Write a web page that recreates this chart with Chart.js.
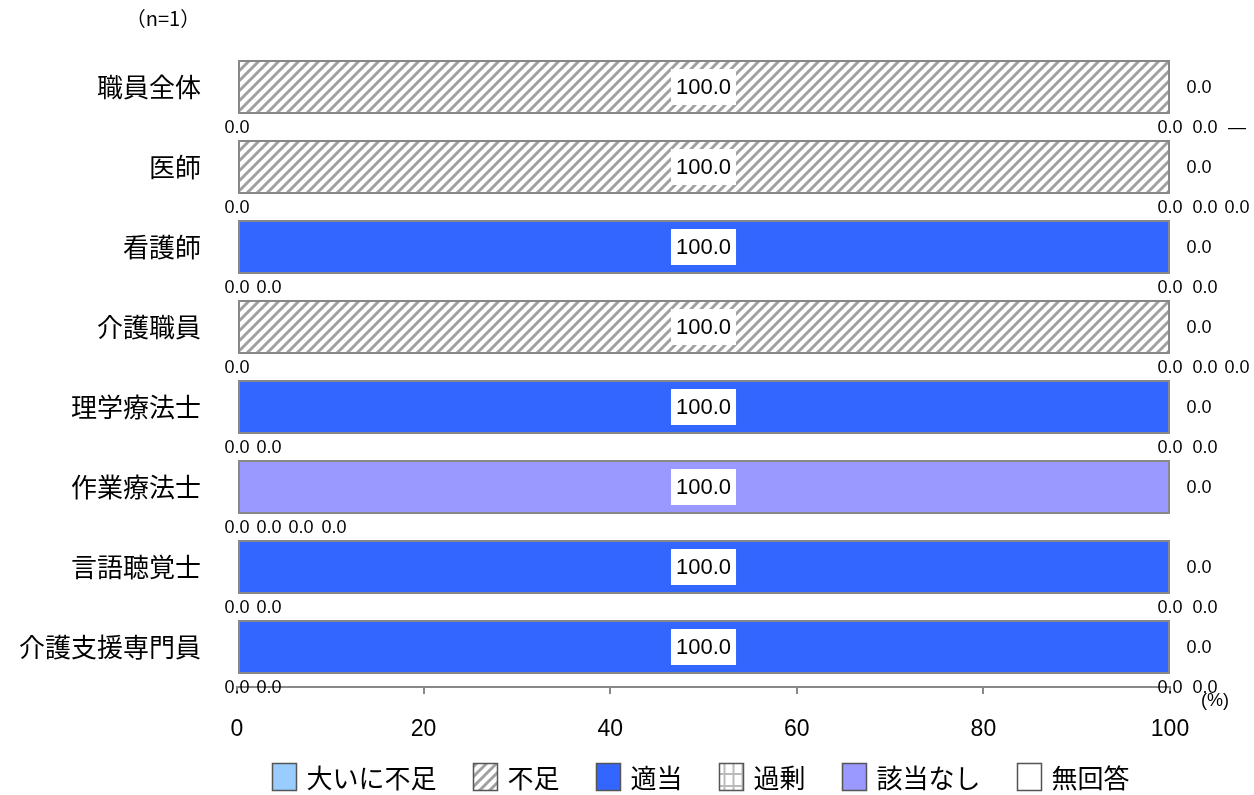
<!DOCTYPE html>
<html><head><meta charset="utf-8">
<script src="https://cdn.jsdelivr.net/npm/chart.js@4"></script>
<style>html,body{margin:0;padding:0;background:#fff;}canvas{display:block;}</style>
</head><body>
<canvas id="c" width="1254" height="795"></canvas>
<script>
const categories = ['職員全体','医師','看護師','介護職員','理学療法士','作業療法士','言語聴覚士','介護支援専門員'];
const seriesNames = ['大いに不足','不足','適当','過剰','該当なし','無回答'];
const s_ooini   = [0,0,0,0,0,0,0,0];
const s_fusoku  = [100,100,0,100,0,0,0,0];
const s_tekitou = [0,0,100,0,100,0,100,100];
const s_kajou   = [0,0,0,0,0,0,0,0];
const s_gaitou  = [null,0,0,0,0,100,0,0];
const s_mukaitou= [0,0,0,0,0,0,0,0];
const xTicks = [0,20,40,60,80,100];
const sampleNote = '（n=1）';
const unitNote = '(%)';

const NUM_FONT = '"Liberation Sans", Arial, sans-serif';
const JP_FONT = '"Noto Sans CJK JP", "Noto Sans", sans-serif';

function hatch(){
  const p = 10, c = document.createElement('canvas'); c.width=p; c.height=p;
  const g = c.getContext('2d');
  g.fillStyle='#fff'; g.fillRect(0,0,p,p);
  g.strokeStyle='#a0a0a0'; g.lineWidth=3;
  g.beginPath();
  g.moveTo(-p,2*p); g.lineTo(2*p,-p);
  g.moveTo(-2*p,2*p); g.lineTo(p,-p);
  g.moveTo(0,2*p); g.lineTo(3*p,-p);
  g.stroke();
  return g.createPattern(c,'repeat');
}
function grid(){
  const c = document.createElement('canvas'); c.width=9; c.height=12;
  const g = c.getContext('2d');
  g.fillStyle='#fff'; g.fillRect(0,0,9,12);
  g.strokeStyle='#bbb'; g.lineWidth=2;
  g.beginPath(); g.moveTo(4.5,0); g.lineTo(4.5,12); g.moveTo(0,6); g.lineTo(9,6); g.stroke();
  return g.createPattern(c,'repeat');
}

const fills = ['#99CCFF', hatch(), '#3366FF', grid(), '#9999FF', '#FFFFFF'];
const seriesData = [s_ooini,s_fusoku,s_tekitou,s_kajou,s_gaitou,s_mukaitou];

const datasets = seriesNames.map((n,i)=>({
  label:n, data:seriesData[i], backgroundColor:fills[i],
  borderColor:'#888', borderWidth:2, borderSkipped:false,
  barPercentage:0.675, categoryPercentage:1
}));

const labelPlugin = {
  id:'labels',
  afterDatasetsDraw(chart){
    const ctx = chart.ctx, xs = chart.scales.x, ca = chart.chartArea;
    const n = datasets.length;
    const leftOff = [0,32,64,97], rightOff = [0,35,67];
    ctx.save();
    ctx.textAlign='center'; ctx.textBaseline='middle';
    categories.forEach((cat,i)=>{
      let k = -1;
      for(let j=0;j<n;j++){ const v = seriesData[j][i]; if(v!==null && v>0){k=j;break;} }
      const el = chart.getDatasetMeta(k).data[i];
      const yc = el.y, bottom = el.y + el.height/2;
      const v = seriesData[k][i];
      const t = v.toFixed(1);
      ctx.font = '22px ' + NUM_FONT;
      const w = ctx.measureText(t).width;
      const xc = (xs.getPixelForValue(0)+xs.getPixelForValue(v))/2;
      ctx.fillStyle='#fff';
      ctx.fillRect(xc - w/2 - 5, yc - 18, w + 10, 36);
      ctx.fillStyle='#000';
      ctx.fillText(t, xc, yc+1);
      ctx.font = '18px ' + NUM_FONT;
      let li=0, ri=0;
      for(let j=0;j<n;j++){
        if(j===k) continue;
        const val = seriesData[j][i];
        const txt = val===null ? '—' : val.toFixed(1);
        if(j===n-1){
          ctx.fillText(txt, xs.getPixelForValue(100)+29, yc+1);
        } else if(j<k){
          ctx.fillText(txt, xs.getPixelForValue(0)+leftOff[li++], bottom+14);
        } else {
          ctx.fillText(txt, xs.getPixelForValue(100)+rightOff[ri++], bottom+14);
        }
      }
    });
    ctx.font = '18px ' + NUM_FONT;
    ctx.fillText(unitNote, ca.right+45, ca.bottom+14);
    ctx.font = '20px ' + JP_FONT;
    ctx.fillText(sampleNote, 163, 18);

    // legend
    ctx.font = '26px ' + JP_FONT;
    const boxW = 24, boxH = 27, textOff = 34, gap = 37;
    const widths = seriesNames.map(s=>textOff + ctx.measureText(s).width);
    const total = widths.reduce((a,b)=>a+b,0) + gap*(seriesNames.length-1);
    let x = 701 - total/2;
    const ly = 777;
    ctx.textAlign='left';
    seriesNames.forEach((s,i)=>{
      ctx.fillStyle = fills[i];
      ctx.fillRect(x, ly-boxH/2, boxW, boxH);
      ctx.strokeStyle = '#555'; ctx.lineWidth = 1.5;
      ctx.strokeRect(x, ly-boxH/2, boxW, boxH);
      ctx.fillStyle = '#000';
      ctx.fillText(s, x+textOff, ly+1);
      x += widths[i] + gap;
    });
    ctx.restore();
  }
};

new Chart(document.getElementById('c'), {
  type:'bar',
  data:{labels:categories, datasets},
  options:{
    indexAxis:'y', responsive:false, animation:false,
    layout:{padding:{top:47,right:84,left:0,bottom:45}},
    plugins:{
      legend:{display:false},
      tooltip:{enabled:false}
    },
    scales:{
      x:{stacked:true, min:0, max:100,
        afterBuildTicks(s){ s.ticks = xTicks.map(v=>({value:v})); },
        afterFit(s){ s.height = 63; },
        grid:{drawOnChartArea:false, drawTicks:true, tickLength:7, color:'#888', lineWidth:2},
        border:{display:true, color:'#888', width:2},
        ticks:{color:'#000', padding:22, font:{family:NUM_FONT,size:23}, maxRotation:0}
      },
      y:{stacked:true,
        afterFit(s){ s.width = 237; },
        grid:{display:false}, border:{display:false},
        ticks:{color:'#000', padding:28, font:{family:JP_FONT,size:26}}
      }
    }
  },
  plugins:[labelPlugin]
});
</script>
</body></html>
